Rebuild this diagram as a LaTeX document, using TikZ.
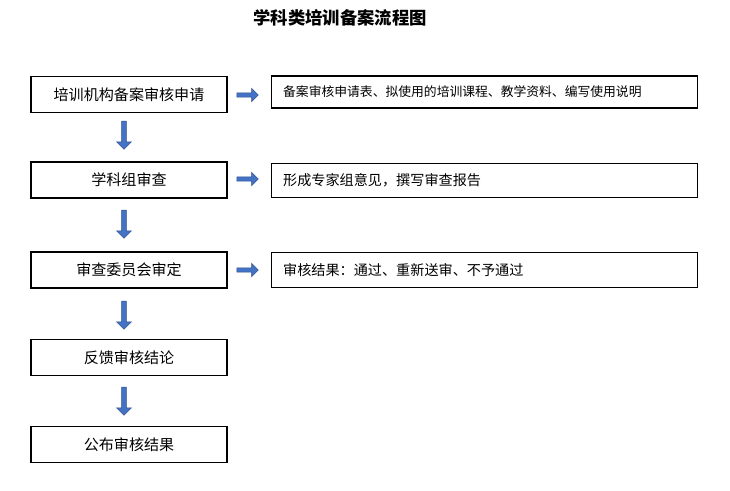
\documentclass[tikz,border=0pt]{standalone}
\usepackage{fontspec}
\setmainfont{Noto Sans CJK SC}
\usetikzlibrary{shapes.arrows,positioning}
\definecolor{arrowblue}{RGB}{68,114,196}
\definecolor{arrowedge}{RGB}{47,82,143}
\tikzset{
  stagebox/.style={draw,thick,minimum width=147pt,minimum height=27pt,inner sep=0pt,font=\fontsize{11.3}{13}\selectfont},
  note/.style={draw,thick,minimum width=320pt,minimum height=26pt,inner sep=0pt,text width=302pt,align=left,font=\fontsize{10.6}{12}\selectfont},
  blk/.style={single arrow,draw=arrowedge,fill=arrowblue,minimum width=11pt,single arrow head extend=2.5pt,minimum height=16pt,inner sep=1pt},
}
\begin{document}
\begin{tikzpicture}[x=0.75pt,y=-0.75pt]
\useasboundingbox (0,0) rectangle (730,490);
\node[font=\bfseries\fontsize{13}{15}\selectfont] (title) at (340,18) {学科类培训备案流程图};

\node[stagebox] (s1) at (129,94.5) {培训机构备案审核申请};
\node[stagebox] (s2) at (129,180) {学科组审查};
\node[stagebox] (s3) at (129,270) {审查委员会审定};
\node[stagebox] (s4) at (129,357.5) {反馈审核结论};
\node[stagebox] (s5) at (129,444.5) {公布审核结果};

\node[note,font=\fontsize{9.6}{11}\selectfont,minimum height=24pt] (n1) at (484.5,92) {备案审核申请表、拟使用的培训课程、教学资料、编写使用说明};
\node[note] (n2) at (484.5,180.5) {形成专家组意见，撰写审查报告};
\node[note] (n3) at (484.5,270) {审核结果：通过、重新送审、不予通过};

\node[blk,rotate=-90,minimum height=21pt] (d1) at (124,134) {};
\node[blk,rotate=-90,minimum height=21pt] (d2) at (124,223) {};
\node[blk,rotate=-90,minimum height=21pt] (d3) at (124,314) {};
\node[blk,rotate=-90,minimum height=21pt] (d4) at (124,400) {};

\node[blk,minimum width=10pt] (r1) at (246.5,95) {};
\node[blk,minimum width=10pt] (r2) at (246.5,179) {};
\node[blk,minimum width=10pt] (r3) at (246.5,270) {};
\end{tikzpicture}
\end{document}
